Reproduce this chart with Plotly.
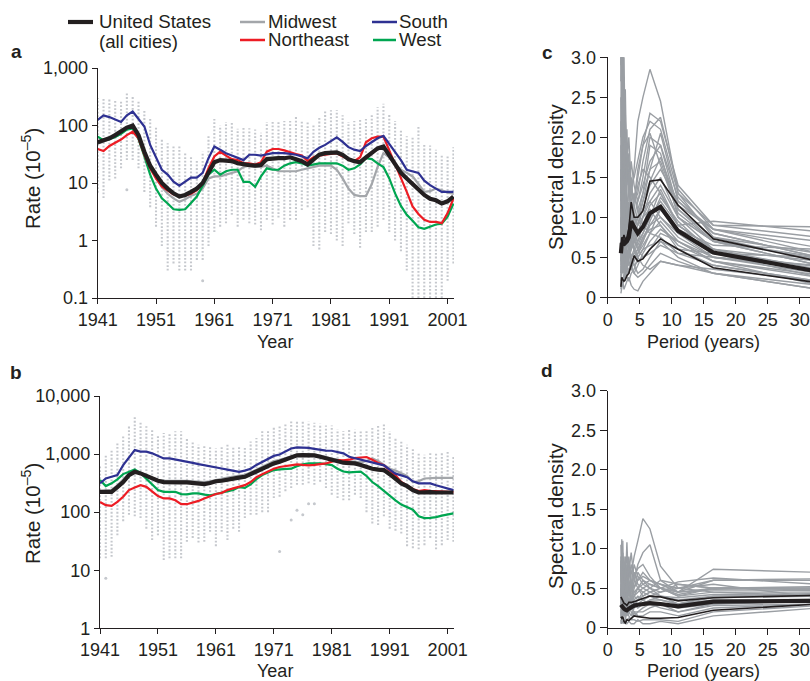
import plotly.graph_objects as go

W, H = 810, 681
def px(x): return x / W
def py(y): return 1 - y / H

years = list(range(1941, 2003))

# ---------- Panel a (rates, log scale) ----------
us_a = [51, 55, 60, 68, 78, 92, 100, 68, 35, 20,
        14, 10, 8, 6.6, 5.8, 6.2, 7, 8, 10, 15,
        23, 25, 25, 24, 22, 21, 20.5, 20, 20.5, 26,
        27, 27, 27, 28, 26, 24, 21, 25, 31, 33,
        33, 34, 31, 26, 24, 23, 28, 33, 40, 43,
        30, 21, 15, 12, 9.5, 7.5, 6.2, 5.3, 5.0, 4.4,
        4.8, 5.8]
midwest_a = [48, 52, 57, 63, 72, 88, 95, 65, 33, 18,
             12, 8.5, 6.5, 5.4, 4.7, 5.2, 6, 6.5, 8, 12,
             13, 13, 14, 15, 16, 19, 20, 19, 19, 20,
             18, 16, 16, 16, 16, 17, 18, 19, 20, 20,
             20, 17, 12, 8, 6.2, 5.9, 5.9, 9.6, 19, 33,
             28, 21, 17, 15, 13, 9.6, 7, 7.2, 8, 7.5,
             6.8, 6.5]
northeast_a = [39, 36, 44, 50, 57, 68, 78, 60, 31, 18,
               12, 8.7, 7.5, 6.3, 6, 6, 6.5, 7.5, 10, 18,
               29, 35, 30, 26, 25, 22, 22, 21, 23, 35,
               39, 39, 37, 34, 32, 30, 24, 28, 30, 31,
               32, 33, 29, 26, 24, 28, 51, 60, 64, 64,
               37, 22, 13, 7, 3.9, 2.9, 2.3, 2.1, 2.1, 2.0,
               3.0, 5.4]
south_a = [125, 150, 140, 125, 115, 150, 175, 130, 96, 46,
           27, 17, 14, 10.5, 9, 10.5, 12.4, 12.4, 15, 27,
           43, 38, 33, 30, 27, 25, 31, 31, 30, 31,
           33, 33, 33, 32, 31, 29, 27, 35, 41, 46,
           54, 62, 52, 42, 38, 36, 44, 52, 60, 66,
           48, 36, 25, 17, 16, 15, 11, 9.2, 8, 7,
           7, 7]
west_a = [64, 55, 58, 63, 72, 85, 89, 58, 29, 14,
          8, 5.4, 4.4, 3.5, 3.4, 3.5, 4.5, 5.8, 9, 14,
          17, 14, 16, 17, 17, 10.5, 10.5, 8.6, 13, 18,
          17, 17, 20, 22, 23, 22, 20, 21, 22, 22,
          22, 22, 20, 17, 18, 21, 27, 26, 22, 19,
          12, 6.6, 4, 2.8, 2.2, 1.7, 1.6, 1.75, 1.9, 1.95,
          2.6, 4.4]
# city spread per year (lowest / highest city value)
cities_lo_a = [6.8, 5.5, 11, 12, 18, 25, 25, 18, 7, 3.8,
               1.74, 0.8, 0.3, 0.4, 0.3, 0.3, 0.3, 0.46, 0.46, 0.8,
               1.4, 1.74, 2, 2.8, 1.74, 2.3, 2, 1.9, 1.5, 2.3,
               1.9, 2.5, 1.74, 2.3, 2.3, 3.4, 3.8, 0.8, 0.7, 1.4,
               1.3, 1.0, 0.8, 2, 1.3, 0.75, 1.4, 1.4, 1.74, 2.3,
               1.4, 1.0, 0.65, 0.3, 0.1, 0.1, 0.1, 0.1, 0.1, 0.1,
               0.2, 0.4]
cities_hi_a = [300, 300, 290, 277, 277, 360, 335, 260, 186, 130,
               95, 60, 49, 45, 43, 35, 28, 25, 35, 67,
               130, 100, 115, 115, 88, 95, 90, 85, 75, 115,
               115, 120, 120, 120, 150, 125, 120, 105, 145, 175,
               185, 185, 150, 115, 120, 130, 130, 150, 210, 240,
               155, 120, 85, 65, 65, 100, 49, 45, 38, 30,
               30, 42]
outlier_years_a = [1946, 1959]
outlier_vals_a = [7.6, 0.2]

# ---------- Panel b ----------
us_b = [224, 224, 224, 270, 330, 435, 495, 465, 417, 380,
        347, 330, 325, 325, 325, 325, 320, 315, 304, 318,
        340, 347, 366, 380, 393, 406, 450, 500, 560, 640,
        690, 740, 800, 880, 950, 960, 960, 950, 900, 840,
        790, 740, 710, 700, 690, 650, 600, 560, 540, 530,
        450, 380, 313, 280, 240, 218, 222, 222, 218, 220,
        218, 218]
midwest_b = [230, 235, 240, 290, 360, 460, 520, 480, 430, 390,
             360, 350, 345, 345, 345, 345, 340, 335, 330, 340,
             360, 380, 395, 410, 420, 440, 480, 540, 610, 690,
             760, 800, 860, 920, 970, 990, 990, 980, 940, 880,
             840, 800, 760, 760, 740, 720, 760, 840, 760, 650,
             560, 520, 470, 420, 330, 340, 380, 390, 390, 390,
             390, 390]
northeast_b = [150, 132, 128, 150, 184, 240, 266, 292, 273, 224,
               189, 172, 172, 160, 137, 137, 145, 156, 172, 189,
               205, 215, 240, 257, 273, 292, 330, 400, 450, 500,
               560, 600, 620, 650, 665, 650, 640, 650, 670, 690,
               740, 790, 780, 800, 850, 880, 890, 800, 700, 640,
               520, 430, 330, 290, 250, 230, 240, 232, 228, 225,
               224, 222]
south_b = [313, 380, 406, 435, 646, 870, 1170, 1100, 1100, 1030,
           925, 840, 840, 810, 775, 740, 706, 670, 646, 610,
           590, 565, 540, 515, 496, 520, 560, 650, 740, 830,
           930, 980, 1100, 1250, 1300, 1300, 1280, 1230, 1180, 1150,
           1140, 1080, 1030, 900, 850, 800, 740, 700, 660, 640,
           540, 460, 430, 400, 340, 313, 313, 313, 290, 270,
           255, 240]
west_b = [358, 281, 313, 366, 452, 495, 545, 470, 380, 300,
          240, 224, 224, 224, 205, 202, 210, 210, 200, 195,
          205, 215, 230, 240, 270, 262, 300, 370, 435, 484,
          530, 545, 545, 560, 620, 665, 690, 700, 690, 670,
          646, 560, 500, 484, 490, 500, 420, 330, 280, 230,
          190, 160, 135, 120, 110, 85, 79, 80, 82, 87,
          92, 95]
cities_lo_b = [16, 16, 17, 40, 70, 90, 85, 79, 52, 33,
               40, 15, 16, 16, 16, 31, 36, 30, 31, 46,
               26, 46, 33, 52, 46, 79, 90, 90, 100, 100,
               175, 185, 230, 260, 295, 295, 315, 295, 335, 260,
               200, 175, 160, 160, 200, 175, 100, 64, 60, 85,
               52, 48, 43, 26, 24, 23, 27, 36, 23, 27,
               33, 31]
cities_hi_b = [650, 1000, 1160, 1630, 2140, 3150, 4300, 3500, 3000, 2650,
               2140, 2300, 2300, 2460, 2460, 1900, 1650, 1450, 1450, 1350,
               1250, 1350, 1450, 1350, 1350, 1350, 1650, 1900, 2460, 2650,
               2850, 3100, 3330, 3800, 3600, 3600, 3600, 3450, 3330, 3100,
               3100, 2650, 2460, 2650, 2650, 2460, 2650, 2850, 3100, 3330,
               2460, 1900, 1650, 1450, 1250, 1030, 970, 1030, 1030, 1030,
               1100, 930]
outlier_years_b = [1942, 1972, 1974, 1975, 1976, 1977, 1978]
outlier_vals_b = [7.3, 21, 73, 108, 90, 140, 140]

# ---------- Panels c, d (spectra) ----------
periods = [2.06, 2.2, 2.36, 2.54, 2.75, 3.0, 3.3, 3.67, 4.125, 4.71, 5.5, 6.6, 8.25, 11, 16.5, 33]

mean_c = [0.55, 0.68, 0.65, 0.72, 0.68, 0.70, 0.75, 0.95, 0.88, 0.80, 0.88, 1.05, 1.13, 0.83, 0.56, 0.32]
upper_c = [0.62, 0.75, 0.72, 0.78, 0.72, 0.75, 0.85, 1.19, 1.0, 1.0, 1.08, 1.45, 1.47, 1.15, 0.73, 0.45]
lower_c = [0.13, 0.25, 0.22, 0.2, 0.22, 0.27, 0.3, 0.4, 0.52, 0.45, 0.48, 0.6, 0.73, 0.6, 0.37, 0.18]
cities_c = [
    [3.5, 2.0, 4.0, 1.5, 1.2, 0.9, 1.0, 1.3, 1.6, 2.2, 2.5, 2.85, 2.45, 1.3, 0.75, 0.45],
    [0.3, 0.6, 0.5, 0.8, 0.6, 0.7, 0.9, 1.0, 1.2, 1.5, 1.9, 2.3, 2.2, 1.4, 0.9, 0.88],
    [1.2, 3.2, 1.0, 1.8, 0.9, 1.1, 0.8, 0.6, 0.7, 0.9, 1.2, 1.6, 2.05, 1.2, 0.8, 0.5],
    [0.5, 0.4, 0.7, 0.6, 0.5, 0.45, 0.5, 0.6, 0.7, 0.8, 1.0, 1.3, 1.5, 1.0, 0.7, 0.4],
    [0.1, 0.2, 0.15, 0.3, 0.25, 0.3, 0.35, 0.4, 0.5, 0.6, 0.75, 0.85, 0.9, 0.65, 0.45, 0.25],
    [2.5, 1.5, 0.9, 1.2, 0.8, 0.6, 0.5, 0.7, 0.9, 1.1, 1.3, 1.9, 1.8, 1.0, 0.6, 0.3],
    [0.8, 1.1, 1.4, 0.9, 1.8, 1.3, 1.0, 0.9, 0.6, 0.5, 0.4, 0.35, 0.45, 0.4, 0.35, 0.2],
    [0.05, 0.1, 0.2, 0.1, 0.15, 0.2, 0.25, 0.15, 0.1, 0.08, 0.2, 0.3, 0.45, 0.4, 0.3, 0.1],
    [3.2, 2.8, 1.6, 2.2, 1.5, 1.9, 1.4, 1.0, 0.8, 0.7, 0.8, 1.0, 1.2, 0.9, 0.6, 0.35],
    [0.6, 0.9, 0.5, 0.4, 0.6, 0.8, 0.6, 0.5, 0.4, 0.3, 0.35, 0.5, 0.7, 0.6, 0.55, 0.5],
    [1.9, 1.3, 1.7, 1.0, 1.2, 0.8, 0.7, 0.9, 1.1, 1.4, 1.6, 1.5, 1.3, 0.9, 0.95, 0.82],
    [0.4, 0.3, 0.5, 0.7, 0.4, 0.6, 0.5, 0.8, 1.0, 0.9, 1.1, 1.2, 1.0, 0.8, 0.5, 0.3],
    [1.5, 0.7, 1.1, 0.5, 0.9, 0.5, 0.4, 0.35, 0.3, 0.4, 0.55, 0.7, 0.85, 0.7, 0.45, 0.15],
    [0.2, 0.5, 0.3, 0.6, 0.35, 0.45, 0.6, 0.7, 0.6, 0.5, 0.6, 0.8, 1.1, 0.85, 0.65, 0.6],
    [2.9, 3.5, 2.1, 1.4, 1.7, 1.0, 1.2, 0.8, 1.0, 1.2, 1.4, 1.7, 1.9, 1.1, 0.7, 0.4],
    [0.9, 0.6, 0.8, 1.1, 0.7, 0.9, 1.1, 1.2, 1.3, 1.1, 0.9, 0.8, 0.75, 0.55, 0.5, 0.35],
    [0.3, 0.2, 0.25, 0.2, 0.3, 0.25, 0.2, 0.3, 0.35, 0.5, 0.6, 0.65, 0.7, 0.5, 0.3, 0.1],
    [1.1, 1.6, 0.8, 1.3, 1.0, 0.7, 0.9, 0.6, 0.8, 1.0, 1.1, 1.4, 1.6, 1.2, 0.85, 0.7],
    [0.7, 0.35, 0.6, 0.3, 0.5, 0.4, 0.3, 0.45, 0.5, 0.55, 0.7, 0.95, 1.25, 0.95, 0.55, 0.25],
    [2.2, 1.0, 1.3, 0.8, 0.6, 0.9, 0.7, 0.5, 0.6, 0.8, 1.0, 1.1, 0.9, 0.6, 0.4, 0.2],
    [0.4, 0.8, 0.3, 0.5, 0.7, 0.35, 0.5, 0.6, 0.7, 0.65, 0.8, 1.0, 1.35, 0.9, 0.6, 0.45],
    [1.0, 0.5, 0.9, 0.7, 0.3, 0.5, 0.6, 0.4, 0.3, 0.25, 0.3, 0.4, 0.55, 0.45, 0.3, 0.15],
    [4.0, 2.5, 3.3, 2.0, 2.6, 1.4, 1.8, 1.2, 0.9, 1.0, 1.3, 1.6, 1.7, 1.1, 0.75, 0.55],
    [0.9, 1.8, 1.2, 2.4, 1.1, 1.6, 1.3, 1.7, 1.4, 1.2, 1.5, 2.0, 1.9, 1.25, 0.8, 0.5],
    [1.6, 0.9, 2.6, 1.2, 1.4, 0.8, 1.1, 0.7, 0.9, 1.0, 1.2, 1.45, 1.75, 1.15, 0.85, 0.62],
    [0.3, 0.45, 0.35, 0.5, 0.45, 0.55, 0.4, 0.5, 0.55, 0.7, 0.9, 1.15, 1.3, 0.9, 0.6, 0.3],
    [2.0, 2.7, 1.5, 1.9, 1.3, 1.5, 1.6, 1.1, 1.2, 1.3, 1.7, 2.1, 2.25, 1.35, 0.85, 0.55],
    [0.6, 0.4, 0.9, 0.5, 0.8, 0.6, 0.8, 1.1, 0.8, 0.6, 0.5, 0.6, 0.8, 0.7, 0.5, 0.35],
    [3.8, 1.7, 2.3, 3.1, 1.6, 2.1, 1.2, 1.5, 1.0, 0.9, 1.0, 1.2, 1.4, 1.0, 0.7, 0.48],
    [0.15, 0.3, 0.5, 0.35, 0.2, 0.4, 0.3, 0.5, 0.4, 0.45, 0.5, 0.55, 0.65, 0.55, 0.4, 0.2],
    [1.3, 2.1, 0.7, 1.5, 2.3, 1.2, 0.9, 1.4, 1.2, 1.6, 1.9, 2.05, 1.65, 1.05, 0.7, 0.5],
    [0.8, 0.6, 1.0, 0.8, 0.6, 0.7, 0.6, 0.5, 0.55, 0.6, 0.75, 0.9, 1.0, 0.75, 0.5, 0.4],
    [2.7, 3.3, 1.9, 2.6, 2.2, 1.7, 2.0, 1.4, 1.5, 1.7, 2.0, 2.2, 2.1, 1.3, 0.9, 0.75],
    [0.45, 0.7, 0.55, 0.9, 0.65, 0.4, 0.6, 0.35, 0.45, 0.55, 0.65, 0.8, 0.95, 0.7, 0.45, 0.28],
    [1.1, 0.8, 1.5, 0.9, 1.3, 1.0, 0.8, 0.95, 0.7, 0.6, 0.7, 0.9, 1.1, 0.8, 0.55, 0.38],
]

mean_d = [0.29, 0.27, 0.25, 0.24, 0.23, 0.22, 0.24, 0.26, 0.28, 0.29, 0.3, 0.31, 0.3, 0.27, 0.33, 0.34]
upper_d = [0.39, 0.36, 0.33, 0.31, 0.3, 0.28, 0.32, 0.32, 0.33, 0.35, 0.37, 0.4, 0.39, 0.34, 0.38, 0.41]
lower_d = [0.14, 0.12, 0.14, 0.08, 0.06, 0.1, 0.09, 0.12, 0.15, 0.14, 0.13, 0.12, 0.12, 0.13, 0.22, 0.3]
cities_d = [
    [0.9, 0.3, 0.5, 0.4, 0.6, 0.3, 0.5, 0.7, 0.9, 1.1, 1.38, 1.25, 0.78, 0.5, 0.45, 0.4],
    [0.3, 1.12, 0.4, 0.6, 0.3, 0.8, 0.5, 0.35, 0.6, 0.8, 0.95, 1.05, 0.6, 0.45, 0.74, 0.7],
    [0.5, 0.2, 1.1, 0.3, 0.5, 1.08, 0.4, 0.6, 0.4, 0.5, 0.6, 0.55, 0.5, 0.58, 0.63, 0.55],
    [0.2, 0.25, 0.3, 0.2, 0.25, 0.3, 0.3, 0.35, 0.4, 0.45, 0.5, 0.55, 0.5, 0.4, 0.45, 0.45],
    [0.1, 0.05, 0.08, 0.1, 0.05, 0.1, 0.12, 0.1, 0.1, 0.08, 0.1, 0.1, 0.1, 0.08, 0.2, 0.28],
    [0.7, 0.5, 0.8, 0.6, 0.9, 0.5, 0.7, 0.95, 0.6, 0.5, 0.4, 0.45, 0.5, 0.4, 0.5, 0.48],
    [0.4, 0.6, 0.3, 0.7, 0.4, 0.5, 0.3, 0.4, 0.3, 0.25, 0.3, 0.35, 0.4, 0.35, 0.4, 0.42],
    [0.15, 0.3, 0.2, 0.15, 0.2, 0.15, 0.2, 0.25, 0.2, 0.2, 0.25, 0.3, 0.3, 0.25, 0.3, 0.33],
    [0.85, 0.4, 0.6, 0.5, 0.35, 0.6, 0.8, 0.5, 0.7, 0.6, 0.7, 0.6, 0.55, 0.45, 0.6, 0.6],
    [0.3, 0.2, 0.4, 0.3, 0.5, 0.2, 0.3, 0.2, 0.15, 0.2, 0.2, 0.25, 0.3, 0.2, 0.28, 0.3],
    [0.6, 0.9, 0.7, 0.4, 0.8, 0.6, 0.5, 0.3, 0.4, 0.35, 0.45, 0.5, 0.6, 0.55, 0.5, 0.5],
    [0.2, 0.1, 0.15, 0.25, 0.1, 0.2, 0.15, 0.1, 0.2, 0.15, 0.15, 0.2, 0.2, 0.15, 0.25, 0.3],
    [0.5, 0.35, 0.25, 0.45, 0.3, 0.35, 0.6, 0.45, 0.35, 0.4, 0.35, 0.4, 0.45, 0.5, 0.55, 0.38],
    [0.35, 0.5, 0.6, 0.35, 0.55, 0.4, 0.35, 0.3, 0.5, 0.7, 0.6, 0.5, 0.4, 0.3, 0.35, 0.36],
    [0.05, 0.15, 0.1, 0.05, 0.1, 0.05, 0.08, 0.05, 0.05, 0.1, 0.05, 0.05, 0.08, 0.05, 0.15, 0.25],
    [0.6, 0.45, 0.35, 0.55, 0.2, 0.45, 0.25, 0.55, 0.8, 0.65, 0.55, 0.5, 0.45, 0.55, 0.5, 0.52],
    [0.8, 0.6, 0.95, 0.5, 0.7, 0.6, 0.9, 0.6, 0.5, 0.6, 0.65, 0.6, 0.55, 0.5, 0.6, 0.62],
    [0.4, 0.7, 0.5, 0.8, 0.45, 0.55, 0.4, 0.5, 0.45, 0.5, 0.55, 0.6, 0.5, 0.45, 0.5, 0.5],
    [1.05, 0.5, 0.7, 0.9, 0.6, 0.75, 0.55, 0.45, 0.7, 0.55, 0.5, 0.45, 0.4, 0.38, 0.42, 0.43],
    [0.25, 0.4, 0.35, 0.5, 0.3, 0.4, 0.45, 0.35, 0.3, 0.35, 0.4, 0.45, 0.5, 0.45, 0.48, 0.47],
    [0.55, 0.3, 0.45, 0.25, 0.35, 0.25, 0.3, 0.4, 0.45, 0.5, 0.45, 0.4, 0.35, 0.3, 0.4, 0.4],
    [0.12, 0.2, 0.15, 0.3, 0.15, 0.25, 0.2, 0.15, 0.25, 0.3, 0.35, 0.3, 0.25, 0.2, 0.3, 0.35],
    [0.65, 0.85, 0.4, 0.55, 0.75, 0.45, 0.6, 0.8, 0.65, 0.75, 0.8, 0.65, 0.5, 0.42, 0.5, 0.5],
    [0.3, 0.15, 0.25, 0.35, 0.2, 0.3, 0.25, 0.3, 0.35, 0.3, 0.3, 0.35, 0.35, 0.3, 0.38, 0.4],
]

year_ticks = [1941, 1951, 1961, 1971, 1981, 1991, 2001]
rate_ticks_a = [0.1, 1, 10, 100, 1000]
rate_text_a = ["0.1", "1", "10", "100", "1,000"]
rate_ticks_b = [1, 10, 100, 1000, 10000]
rate_text_b = ["1", "10", "100", "1,000", "10,000"]
dens_ticks = [0, 0.5, 1.0, 1.5, 2.0, 2.5, 3.0]
dens_text = ["0", "0.5", "1.0", "1.5", "2.0", "2.5", "3.0"]
period_ticks = [0, 5, 10, 15, 20, 25, 30]

# ---------- styling ----------
INK = "#231f20"
C_US = "#231f20"
C_MW = "#a3a6aa"
C_NE = "#ed1c24"
C_SO = "#2e3192"
C_WE = "#00a651"
C_DOT = "#c5c8cd"
C_SPEC = "#9a9ea3"
FONT = "Liberation Sans, Arial, Helvetica, sans-serif"
FS = 18
FT_H = 18
FT_V = 20.5

fig = go.Figure()

def cloud(lo, hi, xa, ya):
    xs, ys = [], []
    for yr, l, h in zip(years, lo, hi):
        xs += [yr, yr, None]
        ys += [l, h, None]
    fig.add_trace(go.Scatter(x=xs, y=ys, mode="lines", xaxis=xa, yaxis=ya,
                             line=dict(color=C_DOT, width=2.1, dash="1.8px,1.8px"),
                             hoverinfo="skip", showlegend=False))

def outliers(xv, yv, xa, ya):
    fig.add_trace(go.Scatter(x=xv, y=yv, mode="markers", xaxis=xa, yaxis=ya,
                             marker=dict(color=C_DOT, size=3), hoverinfo="skip", showlegend=False))

def line(x, y, color, width, xa, ya):
    fig.add_trace(go.Scatter(x=x, y=y, mode="lines", xaxis=xa, yaxis=ya,
                             line=dict(color=color, width=width), showlegend=False))

# panel a
cloud(cities_lo_a, cities_hi_a, "x", "y")
outliers(outlier_years_a, outlier_vals_a, "x", "y")
line(years, midwest_a, C_MW, 2.2, "x", "y")
line(years, west_a, C_WE, 2.2, "x", "y")
line(years, northeast_a, C_NE, 2.2, "x", "y")
line(years, south_a, C_SO, 2.2, "x", "y")
line(years, us_a, C_US, 4.2, "x", "y")

# panel b
cloud(cities_lo_b, cities_hi_b, "x2", "y2")
outliers(outlier_years_b, outlier_vals_b, "x2", "y2")
line(years, midwest_b, C_MW, 2.2, "x2", "y2")
line(years, west_b, C_WE, 2.2, "x2", "y2")
line(years, northeast_b, C_NE, 2.2, "x2", "y2")
line(years, south_b, C_SO, 2.2, "x2", "y2")
line(years, us_b, C_US, 4.2, "x2", "y2")

# panel c
for s in cities_c:
    line(periods, s, C_SPEC, 1.4, "x3", "y3")
line(periods, upper_c, C_US, 1.6, "x3", "y3")
line(periods, lower_c, C_US, 1.6, "x3", "y3")
line(periods, mean_c, C_US, 4.2, "x3", "y3")

# panel d
for s in cities_d:
    line(periods, s, C_SPEC, 1.4, "x4", "y4")
line(periods, upper_d, C_US, 1.6, "x4", "y4")
line(periods, lower_d, C_US, 1.6, "x4", "y4")
line(periods, mean_d, C_US, 4.2, "x4", "y4")

axis_common = dict(showline=True, linecolor=INK, linewidth=1.2, ticks="outside",
                   tickcolor=INK, tickwidth=1.2, showgrid=False, zeroline=False,
                   tickfont=dict(size=FS, color=INK, family=FONT), automargin=False)

fig.update_layout(
    width=W, height=H, autosize=False,
    margin=dict(l=0, r=0, t=0, b=0),
    paper_bgcolor="white", plot_bgcolor="white",
    font=dict(family=FONT, size=FS, color=INK),
    showlegend=False,
    xaxis=dict(domain=[px(97.7), px(454)], range=[1941, 2002.1], anchor="y",
               tickvals=year_ticks, ticklen=5, **axis_common),
    yaxis=dict(domain=[py(298), py(68)], type="log", range=[-1, 3], anchor="x",
               tickvals=rate_ticks_a, ticktext=rate_text_a, ticklen=5, **axis_common),
    xaxis2=dict(domain=[px(100), px(454)], range=[1941, 2002.1], anchor="y2",
                tickvals=year_ticks, ticklen=5, **axis_common),
    yaxis2=dict(domain=[py(628.3), py(396)], type="log", range=[0, 4], anchor="x2",
                tickvals=rate_ticks_b, ticktext=rate_text_b, ticklen=5, **axis_common),
    xaxis3=dict(domain=[px(607.7), 1.0], range=[0, 31.6], anchor="y3",
                tickvals=period_ticks, ticklen=6, **axis_common),
    yaxis3=dict(domain=[py(297.3), py(57.3)], range=[0, 3], anchor="x3",
                tickvals=dens_ticks, ticktext=dens_text, ticklen=7, **axis_common),
    xaxis4=dict(domain=[px(607.7), 1.0], range=[0, 31.6], anchor="y4",
                tickvals=period_ticks, ticklen=6, **axis_common),
    yaxis4=dict(domain=[py(627.7), py(390.7)], range=[0, 3], anchor="x4",
                tickvals=dens_ticks, ticktext=dens_text, ticklen=7, **axis_common),
)

anns = []
def text(x, y, s, size=FS, xanchor="center", yanchor="middle", angle=0, bold=False):
    anns.append(dict(x=px(x), y=py(y), xref="paper", yref="paper", text=("<b>%s</b>" % s) if bold else s,
                     showarrow=False, xanchor=xanchor, yanchor=yanchor, textangle=angle,
                     font=dict(size=size, color=INK, family=FONT)))

# panel letters
text(16, 51, "a", size=19, bold=True)
text(16, 372, "b", size=19, bold=True)
text(547, 52, "c", size=19, bold=True)
text(547, 370, "d", size=19, bold=True)
# axis titles
text(275, 342, "Year", size=FT_H)
text(275, 671, "Year", size=FT_H)
text(31, 179, "Rate (10<sup>–5</sup>)", size=FT_V, angle=-90)
text(31, 514, "Rate (10<sup>–5</sup>)", size=FT_V, angle=-90)
text(555, 177, "Spectral density", size=FT_V, angle=-90)
text(555, 516, "Spectral density", size=FT_V, angle=-90)
text(703, 342, "Period (years)", size=FT_H)
text(703, 671, "Period (years)", size=FT_H)
# legend labels
text(97, 21, "United States", size=18.7, xanchor="left")
text(97, 41, "(all cities)", size=18.7, xanchor="left")
text(266, 21, "Midwest", size=18.7, xanchor="left")
text(266, 39, "Northeast", size=18.7, xanchor="left")
text(397, 21, "South", size=18.7, xanchor="left")
text(397, 39, "West", size=18.7, xanchor="left")

shapes = []
def key(x0, x1, y, color, width):
    shapes.append(dict(type="line", xref="paper", yref="paper", x0=px(x0), x1=px(x1),
                       y0=py(y), y1=py(y), line=dict(color=color, width=width)))
key(68, 93, 22, C_US, 4.2)
key(240, 265, 22, C_MW, 2.5)
key(240, 265, 40, C_NE, 2.5)
key(372, 397, 22, C_SO, 2.5)
key(373, 396, 40, C_WE, 2.5)

fig.update_layout(annotations=anns, shapes=shapes)
fig.write_html("out.html")
